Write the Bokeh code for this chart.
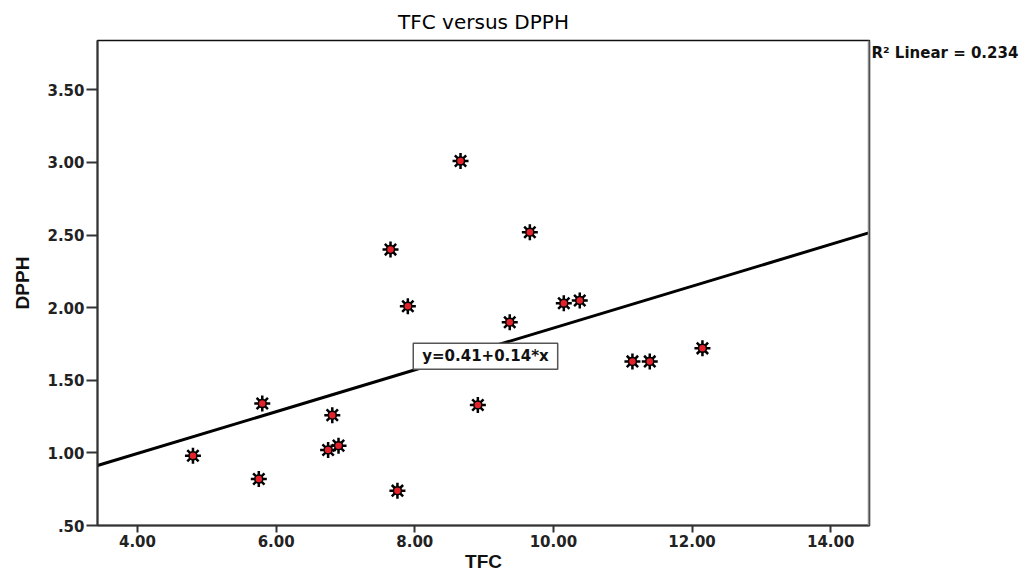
from bokeh.plotting import figure
from bokeh.layouts import row
from bokeh.models import Range1d, FixedTicker, Label, Span
from bokeh.core.properties import value
from bokeh.embed import file_html
from bokeh.resources import INLINE

# ---- data ----
tfc = [4.80, 5.75, 5.80, 6.75, 6.81, 6.90, 7.65, 7.75, 7.90, 8.66, 8.91,
       9.37, 9.66, 10.15, 10.38, 11.14, 11.39, 12.15]
dpph = [0.98, 0.82, 1.34, 1.02, 1.26, 1.05, 2.40, 0.74, 2.01, 3.01, 1.33,
        1.90, 2.52, 2.03, 2.05, 1.63, 1.63, 1.72]
intercept = 0.42
slope = 0.144
r2_text = "R\u00b2 Linear = 0.234"
eq_text = "y=0.41+0.14*x"
x_ticks = [4, 6, 8, 10, 12, 14]
x_tick_labels = ["4.00", "6.00", "8.00", "10.00", "12.00", "14.00"]
y_ticks = [0.5, 1.0, 1.5, 2.0, 2.5, 3.0, 3.5]
y_tick_labels = [".50", "1.00", "1.50", "2.00", "2.50", "3.00", "3.50"]
x_lo, x_hi = 3.423, 14.56
y_lo, y_hi = 0.5, 3.84
eq_x, eq_y = 9.02, 1.665

W, H = 1023, 575
FRAME_TOP, FRAME_BOTTOM = 40, 525
W_MAIN = 871
p = figure(width=W_MAIN, height=H, x_range=Range1d(x_lo, x_hi), y_range=Range1d(y_lo, y_hi),
           output_backend="svg", toolbar_location=None,
           min_border_left=97, min_border_right=W_MAIN - 869, min_border_top=FRAME_TOP,
           min_border_bottom=H - FRAME_BOTTOM,
           title="TFC versus DPPH")
p.background_fill_color = "white"
p.border_fill_color = "white"
p.xgrid.visible = False
p.ygrid.visible = False
p.outline_line_color = "#111111"
p.outline_line_width = 1.5

p.title.align = "center"
p.title.text_font = "DejaVu Sans"
p.title.text_font_size = "20px"
p.title.text_font_style = "normal"
p.title.text_color = "#000000"
p.title.standoff = 14

for ax in (p.xaxis[0], p.yaxis[0]):
    ax.axis_line_color = "#333333"
    ax.axis_line_width = 2
    ax.major_tick_line_color = "#333333"
    ax.major_tick_line_width = 2
    ax.major_tick_in = 0
    ax.minor_tick_line_color = None
    ax.major_label_text_font = "DejaVu Sans"
    ax.major_label_text_font_style = "bold"
    ax.major_label_text_font_size = "15px"
    ax.major_label_text_color = "#222222"
    ax.major_label_standoff = 2
    ax.axis_label_text_font = "Liberation Sans"
    ax.axis_label_text_font_style = "bold"
    ax.axis_label_text_font_size = "19px"
    ax.axis_label_text_color = "#111111"

p.xaxis.ticker = FixedTicker(ticks=x_ticks)
p.xaxis.major_label_overrides = dict(zip(x_ticks, x_tick_labels))
p.xaxis.major_tick_out = 7
p.xaxis.axis_label = "TFC"
p.xaxis.axis_label_standoff = 1

p.yaxis.ticker = FixedTicker(ticks=y_ticks)
p.yaxis.major_label_overrides = dict(zip(y_ticks, y_tick_labels))
p.yaxis.major_tick_out = 11
p.yaxis.axis_label = "DPPH"
p.yaxis.axis_label_standoff = 11

# right frame edge (gray)
p.add_layout(Span(location=x_hi, dimension="height", line_color="#8c8c8c", line_width=3.5))

# fit line
p.line([x_lo, x_hi], [intercept + slope * x_lo, intercept + slope * x_hi],
       line_color="black", line_width=3)

# markers: starburst with red center
p.scatter(tfc, dpph, marker="asterisk", size=16, line_color="black", line_width=2.5)
p.scatter(tfc, dpph, marker="circle", size=8, fill_color="#e3222b", line_color="black",
          line_width=1.5)

p.add_layout(Label(x=eq_x, y=eq_y, text=eq_text, text_align="center", text_baseline="middle",
                   text_font="DejaVu Sans", text_font_style="bold", text_font_size="15px",
                   text_color="#111111", border_line_color="#555555", border_line_width=1.5,
                   background_fill_color="white",
                   padding=dict(left=9, right=9, top=4, bottom=4)))

# side panel holding the R^2 note; its frame is aligned with the main frame,
# so the y range is expressed in page pixels (top to bottom)
W_SIDE = W - W_MAIN
side = figure(width=W_SIDE, height=H, x_range=Range1d(0, W_SIDE),
              y_range=Range1d(FRAME_BOTTOM, FRAME_TOP),
              output_backend="svg", toolbar_location=None, x_axis_type=None,
              y_axis_type=None, min_border=0, title=None)
side.outline_line_color = None
side.xgrid.visible = False
side.ygrid.visible = False
side.background_fill_color = "white"
side.border_fill_color = "white"
side.text(x=[0], y=[52], text=[r2_text], text_align="left", text_baseline="middle",
          text_font=value("DejaVu Sans"), text_font_style="bold", text_font_size="15px",
          text_color="#111111")

layout = row(p, side, spacing=0)
open("out.html", "w").write(file_html(layout, INLINE))
